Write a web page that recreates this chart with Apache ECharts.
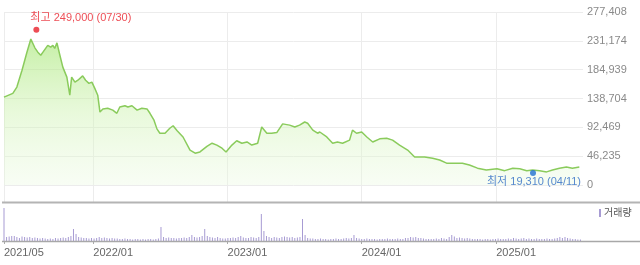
<!DOCTYPE html>
<html><head><meta charset="utf-8">
<script src="https://cdn.jsdelivr.net/npm/echarts@6/dist/echarts.min.js"></script>
<style>html,body{margin:0;padding:0;background:#fff}#c{width:640px;height:265px}</style>
</head><body><div id="c"></div>
<script>
// ---- data ----
const priceDates = ['2021-05-03','2021-05-27','2021-06-07','2021-06-21','2021-07-04','2021-07-15','2021-07-26','2021-08-03','2021-08-11','2021-08-17','2021-08-22','2021-08-30','2021-09-07','2021-09-13','2021-09-18','2021-09-24','2021-10-02','2021-10-10','2021-10-21','2021-10-29','2021-11-03','2021-11-12','2021-11-20','2021-12-03','2021-12-11','2021-12-20','2021-12-28','2022-01-05','2022-01-13','2022-01-19','2022-01-27','2022-02-09','2022-02-23','2022-03-06','2022-03-14','2022-03-28','2022-04-05','2022-04-16','2022-04-30','2022-05-13','2022-05-27','2022-06-04','2022-06-15','2022-06-23','2022-07-01','2022-07-15','2022-07-28','2022-08-06','2022-08-17','2022-09-02','2022-09-21','2022-10-05','2022-10-18','2022-11-06','2022-11-20','2022-12-03','2022-12-17','2022-12-28','2023-01-13','2023-01-26','2023-02-09','2023-02-23','2023-03-08','2023-03-24','2023-04-04','2023-04-18','2023-05-01','2023-05-15','2023-05-31','2023-06-19','2023-07-03','2023-07-16','2023-07-30','2023-08-07','2023-08-21','2023-09-03','2023-09-09','2023-09-28','2023-10-14','2023-10-27','2023-11-10','2023-11-29','2023-12-07','2023-12-18','2024-01-01','2024-01-15','2024-01-31','2024-02-19','2024-03-09','2024-03-25','2024-04-13','2024-05-05','2024-05-24','2024-06-20','2024-07-12','2024-07-31','2024-08-19','2024-09-10','2024-10-01','2024-10-20','2024-11-11','2024-12-05','2025-01-03','2025-01-24','2025-02-15','2025-03-06','2025-03-25','2025-04-10','2025-04-29','2025-05-18','2025-06-03','2025-06-22','2025-07-11','2025-07-27','2025-08-15'];
const priceValues = [141000,147000,157000,184000,212000,234000,220000,213000,208000,213000,211000,224000,221000,224000,219000,228000,208000,189000,173000,144000,173000,165000,168000,175000,168000,163000,165000,155000,144000,117000,122000,123000,120000,115000,125000,127000,125000,127000,120000,123000,122000,115000,104000,90000,83000,83000,91000,95000,87000,77000,56000,51000,53000,62000,67000,64000,59000,53000,64000,71000,67000,69000,64000,67000,93000,83000,83000,84000,98000,96000,93000,96000,101000,99000,88000,83000,85000,77000,67000,69000,67000,72000,88000,83000,85000,77000,69000,74000,75000,72000,64000,56000,45000,45000,43000,40000,35000,35000,35000,32000,27000,24000,26000,23000,27000,26000,23000,24000,23000,21000,24000,27000,29000,27000,29000];
const highPoint = {date:'2021-07-30', value:249000, label:'최고 249,000 (07/30)'};
const lowPoint  = {date:'2025-04-11', value:19310,  label:'최저 19,310 (04/11)'};
const volumeStart = '2021-05-03';
const volumeValues = [3300,400,450,500,500,400,300,450,400,350,400,
 300,350,300,250,300,250,200,250,200,300,
 250,300,350,300,400,500,1200,700,
 400,350,300,300,250,300,250,
 300,400,300,350,300,250,300,250,250,200,
 200,250,200,200,150,200,200,150,200,150,200,200,150,200,250,
 1400,400,300,350,300,300,250,300,300,350,300,400,600,400,350,400,500,1200,
 500,400,350,300,400,300,250,
 250,300,300,350,300,400,500,350,300,300,400,350,300,400,
 2700,1000,500,400,300,400,350,300,400,450,400,350,400,300,350,400,2200,600,
 300,250,250,200,200,250,200,200,150,200,200,250,200,200,250,300,250,300,600,
 300,250,200,200,250,200,200,200,150,200,200,200,250,200,200,200,250,200,200,
 300,300,400,350,400,300,300,
 250,200,200,200,200,250,200,300,250,200,400,600,450,
 300,350,300,250,300,250,200,200,200,200,
 150,200,200,150,200,200,250,200,200,200,250,200,300,250,200,
 250,300,200,250,200,200,250,200,200,200,250,200,200,250,300,
 400,300,400,300,250,200,200,150,150];
const xTickDates = ['2021-05-03','2022-01-01','2023-01-01','2024-01-01','2025-01-01'];
const xTickLabels = ['2021/05','2022/01','2023/01','2024/01','2025/01'];
const yTickValues = [0,46235,92469,138704,184939,231174,277408];
const yTickLabels = ['0','46,235','92,469','138,704','184,939','231,174','277,408'];
const xMin = '2021-05-03', xMax = '2025-08-25';

// ---- build ----
const ts = s => Date.UTC(+s.slice(0,4), +s.slice(5,7)-1, +s.slice(8,10));
const DAY = 86400000;
const volumeData = volumeValues.map((v,i)=>[ts(volumeStart)+i*7*DAY, v]);
const priceData = priceDates.map((d,i)=>[ts(d), priceValues[i]]);
const xTicks = xTickDates.map(ts);
const numFont = "'Liberation Sans','Noto Sans CJK KR',sans-serif";

const chart = echarts.init(document.getElementById('c'), null, {renderer:'canvas'});
chart.setOption({
  animation:false,
  backgroundColor:'#fff',
  legend:{data:[{name:'거래량', icon:'rect'}], left:599, top:208, padding:0, itemWidth:2, itemHeight:8, itemGap:0,
    textStyle:{fontSize:10, color:'#555', fontFamily:numFont, padding:[0,0,0,-2]}},
  grid:[
    {left:4, right:57, top:12, bottom:63},
    {left:4, right:57, top:207, bottom:24}
  ],
  xAxis:[
    {type:'value', gridIndex:0, min:ts(xMin), max:ts(xMax),
     axisLine:{show:false}, axisTick:{show:false, customValues:xTicks},
     axisLabel:{show:false, customValues:xTicks},
     splitLine:{show:true, lineStyle:{color:'#ececec', width:1}}},
    {type:'value', gridIndex:1, min:ts(xMin), max:ts(xMax),
     axisLine:{show:false},
     axisTick:{show:true, customValues:xTicks, length:3, lineStyle:{color:'#aaa'}},
     axisLabel:{show:true, customValues:xTicks, align:'left', margin:6, fontSize:11, color:'#666', fontFamily:numFont,
       formatter:(v)=>{const i=xTicks.indexOf(v); return i>=0?xTickLabels[i]:'';}},
     splitLine:{show:false}}
  ],
  yAxis:[
    {type:'value', gridIndex:0, position:'right', min:-27260, max:277408,
     axisLine:{show:false}, axisTick:{show:false, customValues:yTickValues},
     axisLabel:{customValues:yTickValues, margin:4, align:'left', fontSize:11, color:'#8a8a8a', fontFamily:numFont,
       formatter:(v)=>{const i=yTickValues.indexOf(v); return i>=0?yTickLabels[i]:'';}},
     splitLine:{show:true, lineStyle:{color:'#ececec', width:1}}},
    {type:'value', gridIndex:1, min:0, max:3400, show:false, splitLine:{show:false}}
  ],
  series:[
    {type:'line', name:'주가', xAxisIndex:0, yAxisIndex:0, data:priceData, showSymbol:false, symbol:'none',
     lineStyle:{color:'#8acb5c', width:1.5},
     areaStyle:{origin:0, color:new echarts.graphic.LinearGradient(0,0,0,1,[
       {offset:0,color:'rgba(165,230,115,0.9)'},
       {offset:0.5,color:'rgba(205,242,175,0.65)'},
       {offset:1,color:'rgba(235,250,225,0.5)'}])},
     z:2},
    {type:'scatter', xAxisIndex:0, yAxisIndex:0, symbolSize:6, z:5,
     data:[{value:[ts(highPoint.date), highPoint.value], itemStyle:{color:'#e8202a'},
            label:{show:true, formatter:highPoint.label, position:[-3,-14], align:'left', verticalAlign:'top', color:'#e8202a', fontSize:11, fontFamily:numFont}},
           {value:[ts(lowPoint.date), lowPoint.value], itemStyle:{color:'#1f6fd1'},
            label:{show:true, formatter:lowPoint.label, position:[-43,7], align:'left', verticalAlign:'top', color:'#2e6bc4', fontSize:11, fontFamily:numFont}}]},
    {type:'bar', name:'거래량', xAxisIndex:1, yAxisIndex:1, data:volumeData, barWidth:1, itemStyle:{color:'#a79bd3'}}
  ],
  graphic:[
    {type:'line', shape:{x1:2, y1:202.5, x2:640, y2:202.5}, style:{stroke:'#b4b4b4', lineWidth:2}, z:10},
    {type:'line', shape:{x1:2, y1:241.5, x2:640, y2:241.5}, style:{stroke:'#a8a8a8', lineWidth:1.5}, z:10}
  ]
});
</script></body></html>
